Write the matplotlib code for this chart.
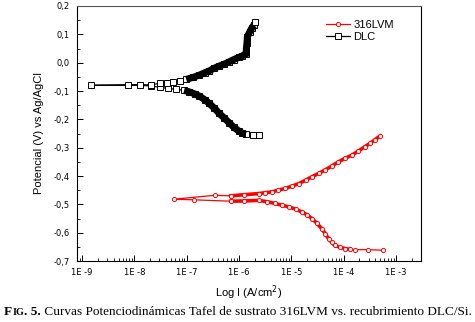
import numpy as np
import matplotlib
matplotlib.use("Agg")
import matplotlib.pyplot as plt
from matplotlib.ticker import FuncFormatter, MultipleLocator, LogLocator

# DLC: log10(I) y potencial, en orden de barrido (catodica -> Ecorr -> anodica)
dlc_logi = [-5.62, -5.74, -5.87, -5.94, -6.0, -6.1, -6.19, -6.28, -6.38, -6.47, -6.57,
            -6.66, -6.76, -6.85, -6.95, -7.05, -7.2, -7.35, -7.51, -7.69, -7.9,
            -8.13, -8.83,
            -7.69, -7.51, -7.38, -7.26, -7.13, -7.01, -6.88, -6.76, -6.66, -6.57,
            -6.48, -6.38, -6.28, -6.19, -6.1, -6.0, -5.94, -5.87, -5.86, -5.85,
            -5.84, -5.8, -5.76, -5.72, -5.69]
dlc_e = [-0.256, -0.256, -0.253, -0.249, -0.242, -0.228, -0.212, -0.196, -0.179, -0.161, -0.144,
         -0.130, -0.118, -0.110, -0.103, -0.098, -0.094, -0.091, -0.087, -0.082, -0.080,
         -0.080, -0.080,
         -0.078, -0.073, -0.070, -0.067, -0.063, -0.059, -0.052, -0.044, -0.036, -0.029,
         -0.020, -0.012, -0.005, 0.003, 0.011, 0.019, 0.024, 0.029, 0.050, 0.068,
         0.092, 0.107, 0.121, 0.132, 0.142]

# 316LVM
lvm_logi = [-3.25, -3.53, -3.79, -3.88, -3.98, -4.08, -4.17, -4.23, -4.29, -4.35, -4.42,
            -4.51, -4.61, -4.70, -4.80, -4.92, -5.05, -5.18, -5.31, -5.46, -5.62,
            -5.90, -6.16, -6.86, -7.25,
            -6.46, -6.16, -5.90, -5.62, -5.50, -5.37, -5.25, -5.12, -4.99, -4.86,
            -4.73, -4.61, -4.48, -4.36, -4.23, -4.10, -3.98, -3.85, -3.72, -3.60,
            -3.50, -3.41, -3.31]
lvm_e = [-0.662, -0.660, -0.660, -0.659, -0.656, -0.651, -0.645, -0.634, -0.621, -0.604, -0.586,
         -0.567, -0.550, -0.537, -0.527, -0.517, -0.509, -0.503, -0.497, -0.491, -0.486,
         -0.488, -0.489, -0.484, -0.482,
         -0.468, -0.470, -0.466, -0.462, -0.459, -0.456, -0.450, -0.444, -0.436, -0.427,
         -0.415, -0.403, -0.391, -0.379, -0.365, -0.350, -0.338, -0.327, -0.312, -0.297,
         -0.285, -0.273, -0.259]

dlc_i = 10.0 ** np.array(dlc_logi)
dlc_v = np.array(dlc_e)
lvm_i = 10.0 ** np.array(lvm_logi)
lvm_v = np.array(lvm_e)

fig = plt.figure(figsize=(4.75, 3.22), dpi=100)
ax = fig.add_axes([77/475, 1-261/322, 344/475, 255/322])

# 316LVM: banda roja + marcadores abiertos
ax.plot(lvm_i[3:23], lvm_v[3:23], color='red', lw=2.6, zorder=2)
ax.plot(lvm_i[26:], lvm_v[26:], color='red', lw=2.6, zorder=2)
ax.plot(lvm_i, lvm_v, color='red', lw=0.9, marker='o', ms=3, mfc='white',
        mec='red', mew=0.7, zorder=3, label='316LVM')

# DLC: banda negra donde los puntos estan muy juntos
ax.plot(dlc_i, dlc_v, color='black', lw=0.9, marker='s', ms=4.2, mfc='white',
        mec='black', mew=0.7, zorder=4, label='DLC')
ax.plot(dlc_i[2:16], dlc_v[2:16], color='black', lw=5.0, zorder=5, solid_capstyle='butt')
ax.plot(dlc_i[28:-1], dlc_v[28:-1], color='black', lw=5.0, zorder=5, solid_capstyle='butt')

ax.set_xscale('log')
ax.set_xlim(8.0e-10, 3.0e-3)
ax.set_ylim(-0.7, 0.2)
ax.yaxis.set_major_locator(MultipleLocator(0.1))
ax.yaxis.set_minor_locator(MultipleLocator(0.05))
ax.xaxis.set_major_locator(LogLocator(base=10, numticks=20))
ax.xaxis.set_minor_locator(LogLocator(base=10, subs=np.arange(2, 10), numticks=20))
ax.yaxis.set_major_formatter(FuncFormatter(lambda v, p: ('%.1f' % v).replace('.', ',')))
ax.xaxis.set_major_formatter(FuncFormatter(lambda v, p: '1E %d' % round(np.log10(v))))
ax.tick_params(which='both', direction='in', labelsize=6, color='black')
ax.tick_params(which='major', length=4, width=0.7, pad=5)
ax.tick_params(which='minor', length=2, width=0.6)
for s in ax.spines.values():
    s.set_linewidth(0.8)
ax.spines['top'].set_color('#555555')

ax.set_ylabel('Potencial (V) vs Ag/AgCl', fontsize=8, family='Liberation Sans', labelpad=7)
ax.set_xlabel('Log I (A/cm$^2$)', fontsize=8, family='Liberation Sans', labelpad=5)

ax.legend(loc='upper right', bbox_to_anchor=(0.95, 0.985), frameon=False,
          handlelength=2.2, handletextpad=0.3, labelspacing=0.2,
          prop={'family': 'Liberation Sans', 'size': 8})

# pie de figura
fig.canvas.draw()
r = fig.canvas.get_renderer()
ycap = 1 - 315/322
xp = 4.0
parts = [('F', 9.5, 'bold'), ('IG', 7.3, 'bold'), ('. 5.', 9.5, 'bold'),
         (' Curvas Potenciodinámicas Tafel de sustrato 316LVM vs. recubrimiento DLC/Si.', 9.5, 'normal')]
for txt, sz, wt in parts:
    t = fig.text(xp/475, ycap, txt, fontsize=sz, weight=wt, family='Liberation Serif')
    bb = t.get_window_extent(r)
    xp = bb.x1

fig.savefig('out.png', dpi=100)
